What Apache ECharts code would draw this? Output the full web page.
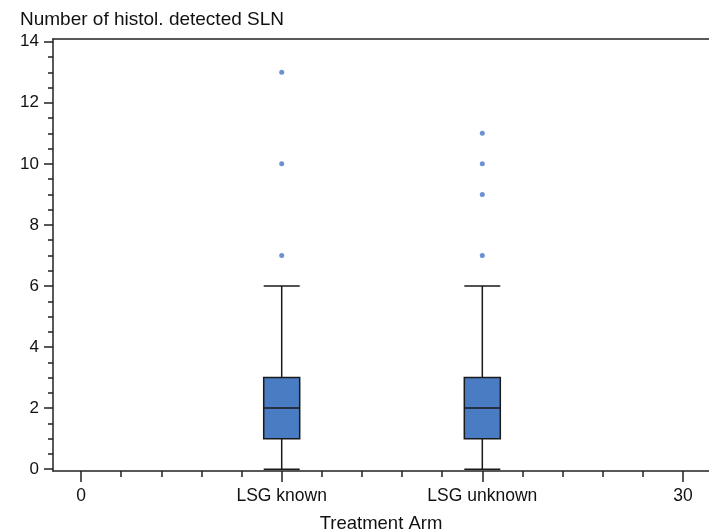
<!DOCTYPE html>
<html>
<head>
<meta charset="utf-8">
<script src="https://cdn.jsdelivr.net/npm/echarts@6/dist/echarts.min.js"></script>
<style>html,body{margin:0;padding:0;background:#fff}#c{width:709px;height:531px}</style>
</head>
<body>
<div id="c"></div>
<script>
// ---- data ----
var xTickValues = [0, 10, 20, 30];
var xTickLabels = ['0', 'LSG known', 'LSG unknown', '30'];
var xMinorTicks = [2, 4, 6, 8, 12, 14, 16, 18, 22, 24, 26, 28];
var yTickValues = [0, 2, 4, 6, 8, 10, 12, 14];
var yMinorTicks = [0.5, 1, 1.5, 2.5, 3, 3.5, 4.5, 5, 5.5, 6.5, 7, 7.5, 8.5, 9, 9.5, 10.5, 11, 11.5, 12.5, 13, 13.5];
var groupPositions = [10, 20];
var boxMin = [0, 0];
var boxQ1 = [1, 1];
var boxMedian = [2, 2];
var boxQ3 = [3, 3];
var boxMax = [6, 6];
var outliersKnown = [7, 10, 13];
var outliersUnknown = [7, 9, 10, 11];

var boxData = groupPositions.map(function (p, i) {
  return [p, boxMin[i], boxQ1[i], boxMedian[i], boxQ3[i], boxMax[i]];
});
var outlierData = outliersKnown.map(function (v) { return [groupPositions[0], v]; })
  .concat(outliersUnknown.map(function (v) { return [groupPositions[1], v]; }));

var XMIN = -1.4, XMAX = 31.3, YMIN = -0.06, YMAX = 14.09;
var FONT = 'Liberation Sans, Arial, sans-serif';
var TXT = '#111';

var chart = echarts.init(document.getElementById('c'));
chart.setOption({
  animation: false,
  title: {
    text: 'Number of histol. detected SLN',
    left: 15, top: 5,
    textStyle: { fontFamily: FONT, fontSize: 19, fontWeight: 'normal', color: TXT }
  },
  grid: { left: 53, right: 0, top: 39, bottom: 60, containLabel: false, outerBoundsMode: 'none' },
  xAxis: [
    {
      type: 'value', min: XMIN, max: XMAX, position: 'bottom',
      name: 'Treatment Arm', nameLocation: 'middle', nameGap: 43,
      nameTextStyle: { fontFamily: FONT, fontSize: 18.5, color: TXT },
      axisLine: { onZero: false, lineStyle: { color: '#222', width: 1.5 } },
      axisTick: { customValues: xTickValues, length: 11, lineStyle: { color: '#222', width: 1.5 } },
      axisLabel: {
        customValues: xTickValues, margin: 16,
        fontFamily: FONT, fontSize: 17.5, color: TXT,
        formatter: function (v) {
          var i = xTickValues.indexOf(v);
          return i >= 0 ? xTickLabels[i] : '';
        }
      },
      splitLine: { show: false }
    },
    {
      type: 'value', min: XMIN, max: XMAX, position: 'bottom',
      axisLine: { show: false, onZero: false },
      axisTick: { customValues: xMinorTicks, length: 6, lineStyle: { color: '#222', width: 1.5 } },
      axisLabel: { show: false },
      splitLine: { show: false }
    },
    {
      type: 'value', min: XMIN, max: XMAX, position: 'top',
      axisLine: { onZero: false, lineStyle: { color: '#222', width: 1.5 } },
      axisTick: { show: false },
      axisLabel: { show: false },
      splitLine: { show: false }
    }
  ],
  yAxis: [
    {
      type: 'value', min: YMIN, max: YMAX,
      axisLine: { show: true, onZero: false, lineStyle: { color: '#222', width: 1.5 } },
      axisTick: { show: true, customValues: yTickValues, length: 9, lineStyle: { color: '#222', width: 1.5 } },
      axisLabel: { customValues: yTickValues, margin: 14, fontFamily: FONT, fontSize: 17, color: TXT },
      splitLine: { show: false }
    },
    {
      type: 'value', min: YMIN, max: YMAX, position: 'left',
      axisLine: { show: false, onZero: false },
      axisTick: { show: true, customValues: yMinorTicks, length: 5, lineStyle: { color: '#222', width: 1.5 } },
      axisLabel: { show: false },
      splitLine: { show: false }
    }
  ],
  series: [
    {
      type: 'boxplot',
      xAxisIndex: 0, yAxisIndex: 0,
      layout: 'horizontal',
      boxWidth: [36, 36],
      data: boxData,
      itemStyle: { color: '#4a7cc4', borderColor: '#1a1a1a', borderWidth: 1.5 },
      emphasis: { disabled: true }
    },
    {
      type: 'scatter',
      xAxisIndex: 0, yAxisIndex: 0,
      symbol: 'circle', symbolSize: 5,
      data: outlierData,
      itemStyle: { color: '#4676c4' }
    }
  ]
});
</script>
</body>
</html>
